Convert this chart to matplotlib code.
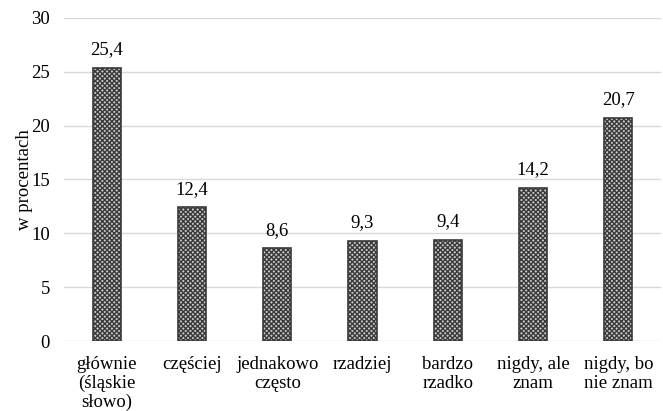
import matplotlib.pyplot as plt
import numpy as np

plt.rcParams['font.family'] = ['Liberation Serif', 'DejaVu Serif']
plt.rcParams['hatch.linewidth'] = 1.0

categories = ['głównie\n(śląskie\nsłowo)', 'częściej', 'jednakowo\nczęsto', 'rzadziej',
              'bardzo\nrzadko', 'nigdy, ale\nznam', 'nigdy, bo\nnie znam']
values = [25.4, 12.4, 8.6, 9.3, 9.4, 14.2, 20.7]
labels = ['25,4', '12,4', '8,6', '9,3', '9,4', '14,2', '20,7']

fig = plt.figure(figsize=(6.63, 4.11), dpi=100)
ax = fig.add_axes([64/663, 1-341/411, (661-64)/663, (341-18)/411])

x = np.arange(len(values))
ax.bar(x, values, width=0.33, color='#c8c8c8', edgecolor='#3a3a3a', hatch='xxxxxxx', linewidth=1.2, zorder=3)
for xi, v, lab in zip(x, values, labels):
    ax.text(xi, v + 0.9, lab, ha='center', va='bottom', fontsize=13.5)

ax.set_xlim(-0.5, len(values) - 0.5)
ax.set_ylim(0, 30)
ax.set_yticks(range(0, 31, 5))
ax.yaxis.grid(True, color='#d9d9d9', linewidth=1)
ax.set_axisbelow(True)
for s in ax.spines.values():
    s.set_visible(False)
ax.tick_params(axis='both', length=0, labelsize=13.5)
ax.tick_params(axis='y', pad=10)
ax.tick_params(axis='x', pad=11)
ax.set_xticks(x)
ax.set_xticklabels(categories, linespacing=1.1)
ax.set_ylabel('w procentach', fontsize=13.5, labelpad=-1)

fig.savefig('out.png', dpi=100)
